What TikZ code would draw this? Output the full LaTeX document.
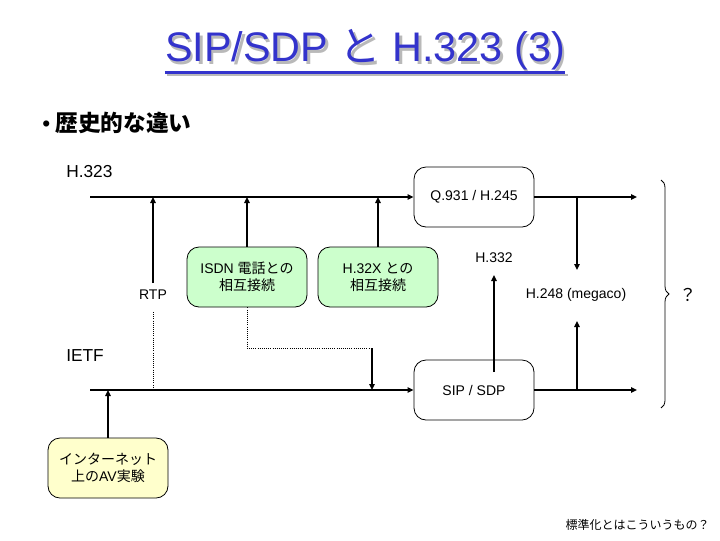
\documentclass[tikz,border=0pt]{standalone}
\usepackage{fontspec}
\setmainfont{Liberation Sans}
\newfontfamily\jp{Noto Sans CJK JP}
\usepackage{tikz}
\usetikzlibrary{arrows.meta,positioning,calc,decorations.pathreplacing}
\definecolor{TitleBlue}{RGB}{51,51,204}
\definecolor{ShadowGray}{RGB}{185,185,185}
\definecolor{BoxGreen}{RGB}{204,255,204}
\definecolor{BoxYellow}{RGB}{255,255,204}
\tikzset{
  proto/.style={draw=black,rounded corners=9pt,fill=white,minimum width=90pt,minimum height=45pt,font=\fontsize{10.5}{13}\selectfont,align=center,line width=0.6pt},
  plabel/.style={font=\fontsize{10.5}{13}\selectfont,inner sep=1pt},
  grouplabel/.style={font=\fontsize{13}{15}\selectfont,anchor=west,inner sep=0pt},
  bus/.style={-{Triangle[length=4.5pt,width=4pt]},line width=1.5pt},
  link/.style={-{Triangle[length=4.5pt,width=4pt]},line width=1.5pt},
  dotpath/.style={densely dotted,line width=0.6pt},
  titletext/.style={font=\fontsize{31}{34}\selectfont,inner sep=0pt,text=TitleBlue},
  brace/.style={decorate,decoration={brace,amplitude=6pt},line width=0.6pt}
}

\begin{document}
\begin{tikzpicture}[x=0.75pt,y=-0.75pt]
\fill[white] (0,0) rectangle (720,540);
\useasboundingbox (0,0) rectangle (720,540);

% title with shadow
\node[titletext,text=ShadowGray] (titlesh) at (367.5,52.5) {SIP/SDP {\jp と} H.323 (3)};
\draw[ShadowGray,line width=2.2pt] ([yshift=-8pt]titlesh.base west) -- ([yshift=-8pt]titlesh.base east);
\node[titletext] (title) at (365,50) {SIP/SDP {\jp と} H.323 (3)};
\draw[TitleBlue,line width=2.2pt] ([yshift=-8pt]title.base west) -- ([yshift=-8pt]title.base east);

\node[anchor=west,inner sep=0pt] (bullet) at (42,123) {{\fontsize{17}{20}\selectfont •}\hspace{4pt}{\jp\bfseries\fontsize{17}{20}\selectfont 歴史的な違い}};

\node[grouplabel] (h323) at (66,172) {H.323};
\node[grouplabel] (ietf) at (66,356) {IETF};

\node[proto] (q) at (474,197) {Q.931 / H.245};
\node[proto] (sip) at (474,390) {SIP / SDP};
\node[proto,fill=BoxGreen] (isdn) at (247,277) {ISDN {\jp 電話との}\\{\jp 相互接続}};
\node[proto,fill=BoxGreen] (h32x) at (378,277) {H.32X {\jp との}\\{\jp 相互接続}};
\node[proto,fill=BoxYellow] (av) at (108,468) {{\jp インターネット}\\{\jp 上の}AV{\jp 実験}};

\node[plabel] (rtp) at (153,295) {RTP};
\node[plabel] (h332) at (494,258) {H.332};
\node[plabel] (h248) at (576,295) {H.248 (megaco)};
\node[plabel,font=\fontsize{13}{15}\selectfont\jp] (ques) at (688,295) {？};
\node[font=\fontsize{9}{11}\selectfont\jp,anchor=east,inner sep=0pt] (note) at (710,525) {標準化とはこういうもの？};

\coordinate (h323start) at (90,197);
\coordinate (h323end) at (637,197);
\coordinate (ietfstart) at (90,390);
\coordinate (ietfend) at (637,390);
\coordinate (mgtop) at (577,270);
\coordinate (mgbot) at (577,321);
\coordinate (sipin) at (494,372);
\coordinate (h332tip) at (494,275);
\coordinate (rtptail) at (153,283);
\coordinate (rtpdot) at (153,312);
\coordinate (isdnturn) at (247,348);
\coordinate (mergept) at (372,348);

% H.323 line
\draw[bus](h323start)--(q.west);\draw[bus](q.east)--(h323end);
\draw[link](q.east -| mgtop)--(mgtop);
\draw[link](rtptail)--(rtptail |- h323start);
\draw[link](isdn.north)--(isdn.north |- h323start);
\draw[link](h32x.north)--(h32x.north |- h323start);

% IETF line
\draw[bus](ietfstart)--(sip.west);\draw[bus](sip.east)--(ietfend);
\draw[link](sip.east -| mgbot)--(mgbot);
\draw[link](sipin)--(h332tip);
\draw[link](av.north)--(av.north |- ietfstart);
\draw[dotpath](rtpdot)--(rtpdot |- ietfstart);
\draw[dotpath](isdn.south)--(isdnturn)--(mergept);
\draw[link](mergept)--(mergept |- ietfstart);

\draw[brace](661,180)--(661,408);
\end{tikzpicture}
\end{document}
